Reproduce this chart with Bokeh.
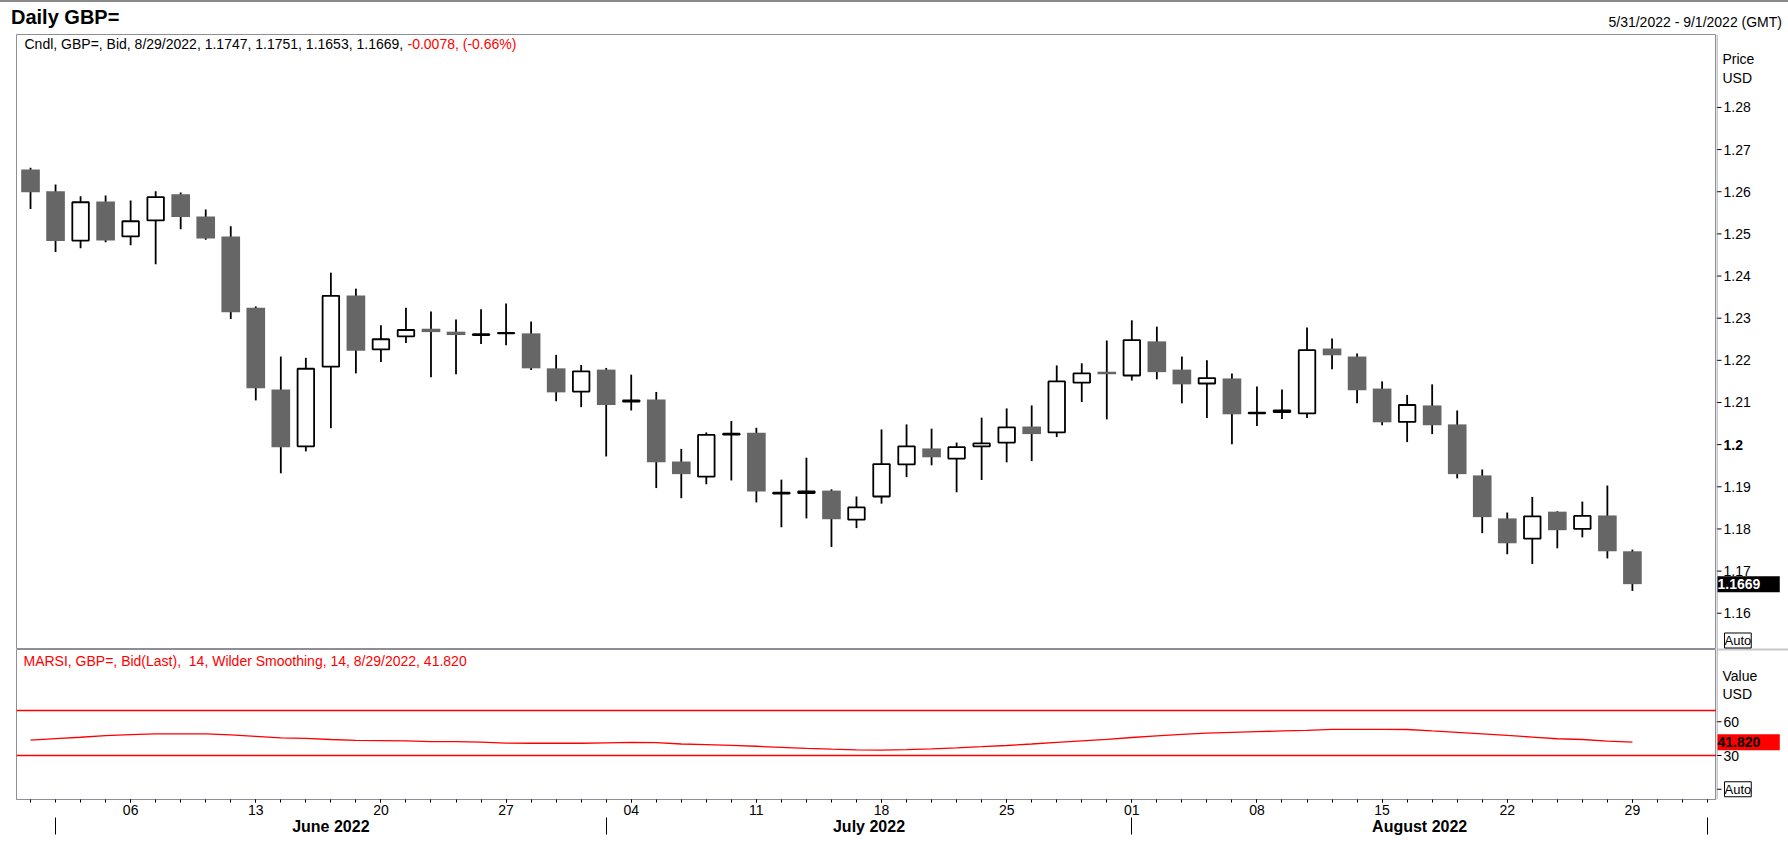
import pandas as pd
from bokeh.plotting import figure
from bokeh.models import Range1d, FixedTicker, LinearAxis, Label, Span, Div
from bokeh.layouts import column, row
from bokeh.core.properties import value
from bokeh.embed import file_html
from bokeh.resources import INLINE

FONT = "Liberation Sans"

# ---------------- data ----------------
opens = [1.2653, 1.2601, 1.2484, 1.2577, 1.2494, 1.2532, 1.2594, 1.2541, 1.2494, 1.2325,
         1.2131, 1.1996, 1.2185, 1.2354, 1.2226, 1.2257, 1.2275, 1.2268, 1.2260, 1.2264,
         1.2264, 1.2181, 1.2126, 1.2178, 1.2102, 1.2107, 1.1960, 1.1924, 1.2024, 1.2028,
         1.1884, 1.1885, 1.1891, 1.1822, 1.1877, 1.1953, 1.1991, 1.1967, 1.1996, 1.2005,
         1.2043, 1.2029, 1.2147, 1.2173, 1.2164, 1.2245, 1.2178, 1.2145, 1.2157, 1.2074,
         1.2077, 1.2074, 1.2228, 1.2209, 1.2133, 1.2054, 1.2093, 1.2048, 1.1927, 1.1825,
         1.1777, 1.1841, 1.1800, 1.1832, 1.1747]
highs = [1.2657, 1.2617, 1.2589, 1.2591, 1.2579, 1.2601, 1.2598, 1.2558, 1.2518, 1.2328,
         1.2209, 1.2206, 1.2408, 1.2370, 1.2283, 1.2325, 1.2316, 1.2297, 1.2321, 1.2335,
         1.2292, 1.2213, 1.2189, 1.2182, 1.2166, 1.2125, 1.1990, 1.2029, 1.2056, 1.2040,
         1.1917, 1.1969, 1.1894, 1.1877, 1.2036, 1.2048, 1.2038, 1.2005, 1.2064, 1.2086,
         1.2093, 1.2188, 1.2193, 1.2247, 1.2295, 1.2280, 1.2209, 1.2200, 1.2169, 1.2138,
         1.2131, 1.2278, 1.2252, 1.2216, 1.2150, 1.2118, 1.2143, 1.2081, 1.1941, 1.1839,
         1.1876, 1.1842, 1.1865, 1.1903, 1.1751]
lows = [1.2559, 1.2457, 1.2466, 1.2480, 1.2473, 1.2428, 1.2511, 1.2486, 1.2298, 1.2105,
        1.1932, 1.1984, 1.2039, 1.2169, 1.2196, 1.2241, 1.2160, 1.2167, 1.2239, 1.2236,
        1.2177, 1.2103, 1.2089, 1.1972, 1.2081, 1.1897, 1.1873, 1.1906, 1.1915, 1.1863,
        1.1804, 1.1825, 1.1757, 1.1802, 1.1860, 1.1923, 1.1951, 1.1887, 1.1916, 1.1958,
        1.1961, 1.2018, 1.2101, 1.2060, 1.2152, 1.2155, 1.2098, 1.2063, 1.2001, 1.2044,
        1.2061, 1.2063, 1.2179, 1.2098, 1.2046, 1.2006, 1.2025, 1.1920, 1.1790, 1.1740,
        1.1717, 1.1754, 1.1780, 1.1730, 1.1653]
closes = [1.2599, 1.2483, 1.2575, 1.2484, 1.2530, 1.2587, 1.2540, 1.2489, 1.2314, 1.2134,
          1.1994, 1.2180, 1.2353, 1.2223, 1.2250, 1.2272, 1.2267, 1.2260, 1.2262, 1.2265,
          1.2181, 1.2124, 1.2174, 1.2094, 1.2105, 1.1958, 1.1930, 1.2023, 1.2026, 1.1889,
          1.1886, 1.1889, 1.1823, 1.1851, 1.1954, 1.1996, 1.1970, 1.1994, 1.2003, 1.2041,
          1.2025, 1.2150, 1.2169, 1.2167, 1.2248, 1.2172, 1.2143, 1.2158, 1.2072, 1.2076,
          1.2081, 1.2224, 1.2212, 1.2129, 1.2053, 1.2094, 1.2046, 1.1930, 1.1828, 1.1766,
          1.1830, 1.1797, 1.1831, 1.1747, 1.1669]
rsi = [43.6, 45.0, 46.2, 47.6, 48.6, 49.3, 49.3, 49.2, 48.4, 47.0,
       45.6, 45.2, 44.2, 43.4, 43.3, 43.0, 42.4, 42.3, 41.8, 41.0,
       40.9, 40.9, 40.9, 41.3, 41.6, 41.4, 40.2, 39.6, 39.0, 38.2,
       37.2, 36.3, 35.6, 35.0, 34.8, 35.2, 35.9, 36.8, 37.8, 38.9,
       40.2, 41.6, 43.0, 44.4, 46.0, 47.4, 48.8, 49.8, 50.6, 51.2,
       51.8, 52.4, 53.2, 53.2, 53.2, 53.1, 51.8, 50.6, 49.3, 47.8,
       46.4, 44.9, 44.2, 42.8, 41.82]

first_day = "2022-05-31"
last_axis_day = "2022-09-01"
price_ticks = [1.16, 1.17, 1.18, 1.19, 1.21, 1.22, 1.23, 1.24, 1.25, 1.26, 1.27, 1.28]
price_tick_labels = ["1.16", "1.17", "1.18", "1.19", "1.21", "1.22", "1.23", "1.24",
                     "1.25", "1.26", "1.27", "1.28"]
bold_tick = [1.20]
bold_tick_label = ["1.2"]
rsi_ticks = [30, 60]
rsi_tick_labels = ["30", "60"]
rsi_auto_tick = 0
rsi_levels = [70, 30]
rsi_period = 14

dates = pd.bdate_range(first_day, periods=len(opens))
axis_days = pd.bdate_range(first_day, last_axis_day)
idx = list(range(len(opens)))
all_idx = list(range(len(axis_days)))

# ---------------- geometry (page pixels) ----------------
W, H = 1788, 862
HEAD = 33
FRAME_L, FRAME_R = 16, 1716
P1_TOP, P1_BOT = 34, 649
P2_TOP, P2_BOT = 649, 799
RIGHT_W = W - FRAME_R
X0, X1 = -0.56, 67.36
Y1_BOT, Y1_TOP = 1.1514, 1.2973
Y2_BOT, Y2_TOP = -9.1, 124.2


def y1d(py):
    return Y1_TOP - (py - P1_TOP) * (Y1_TOP - Y1_BOT) / (P1_BOT - P1_TOP)


def y2d(py):
    return Y2_TOP - (py - P2_TOP) * (Y2_TOP - Y2_BOT) / (P2_BOT - P2_TOP)


def xd(px):
    return X0 + (px - FRAME_L) * (X1 - X0) / (FRAME_R - FRAME_L)


GRAY = "#8e8e98"
BEAR = "#666666"
RED = "#ff0000"


def mdy(d):
    return f"{d.month}/{d.day}/{d.year}"


xr = Range1d(X0, X1)
yr1 = Range1d(Y1_BOT, Y1_TOP)
yr2 = Range1d(Y2_BOT, Y2_TOP)

common = dict(output_backend="svg", toolbar_location=None, tools="")

p1 = figure(width=FRAME_R, height=P1_BOT - HEAD, x_range=xr, y_range=yr1,
            x_axis_location=None, y_axis_location=None,
            min_border_left=FRAME_L, min_border_right=0,
            min_border_top=P1_TOP - HEAD, min_border_bottom=0, **common)
p2 = figure(width=FRAME_R, height=H - P2_TOP, x_range=xr, y_range=yr2,
            y_axis_location=None,
            min_border_left=FRAME_L, min_border_right=0,
            min_border_top=0, min_border_bottom=H - P2_BOT, **common)
q1 = figure(width=RIGHT_W, height=P1_BOT - HEAD, x_range=Range1d(0, RIGHT_W), y_range=yr1,
            x_axis_location=None, y_axis_location=None,
            min_border_left=0, min_border_right=0,
            min_border_top=P1_TOP - HEAD, min_border_bottom=0, **common)
q2 = figure(width=RIGHT_W, height=H - P2_TOP, x_range=Range1d(0, RIGHT_W), y_range=yr2,
            x_axis_location=None, y_axis_location=None,
            min_border_left=0, min_border_right=0,
            min_border_top=0, min_border_bottom=H - P2_BOT, **common)

for p in (p1, p2, q1, q2):
    p.xgrid.visible = False
    p.ygrid.visible = False
    p.background_fill_color = "white"
    p.border_fill_color = "white"
for p in (p1, p2):
    p.outline_line_color = GRAY
    p.outline_line_width = 1
for q in (q1, q2):
    q.outline_line_color = None

# ---------------- candles ----------------
bull = [i for i in idx if closes[i] >= opens[i]]
bear = [i for i in idx if closes[i] < opens[i]]
p1.segment(x0=idx, y0=lows, x1=idx, y1=highs, line_color="black", line_width=1.8)
p1.vbar(x=bear, width=0.745, top=[opens[i] for i in bear],
        bottom=[closes[i] for i in bear], fill_color=BEAR, line_color=None)
p1.vbar(x=bull, width=0.66, top=[closes[i] for i in bull],
        bottom=[opens[i] for i in bull], fill_color="white", line_color="black",
        line_width=1.8)

# ---------------- RSI ----------------
for lv in rsi_levels:
    p2.add_layout(Span(location=lv, dimension="width", line_color=RED, line_width=1.3))
p2.line(idx, rsi, line_color=RED, line_width=1.3)

# ---------------- x axis ----------------
mondays = [i for i, d in enumerate(axis_days) if d.weekday() == 0]
xa = p2.xaxis[0]
xa.ticker = FixedTicker(ticks=mondays, minor_ticks=all_idx)
xa.major_label_overrides = {i: axis_days[i].strftime("%d") for i in mondays}
xa.axis_line_color = GRAY
xa.major_tick_out = 3
xa.major_tick_in = 0
xa.minor_tick_out = 3
xa.minor_tick_in = 0
xa.major_tick_line_color = "black"
xa.minor_tick_line_color = "black"
xa.major_label_standoff = 2
xa.major_label_text_font = FONT
xa.major_label_text_font_size = "14px"
xa.major_label_text_color = "black"

seps = [i for i in all_idx if i > 0 and axis_days[i].month != axis_days[i - 1].month]
centers = [(a + b) / 2 for a, b in zip(seps[:-1], seps[1:])]
names = [axis_days[a].strftime("%B %Y") for a in seps[:-1]]
ma = LinearAxis(ticker=FixedTicker(ticks=centers, minor_ticks=seps),
                major_label_overrides=dict(zip(centers, names)))
ma.axis_line_color = None
ma.major_tick_line_color = None
ma.major_tick_out = 0
ma.major_tick_in = 0
ma.minor_tick_out = 17
ma.minor_tick_in = 0
ma.minor_tick_line_color = "black"
ma.major_label_standoff = -17
ma.major_label_text_font = FONT
ma.major_label_text_font_size = "16px"
ma.major_label_text_font_style = "bold"
ma.major_label_text_color = "black"
p2.add_layout(ma, "below")


# ---------------- helpers ----------------
def txt(p, xs, ys, texts, size="14px", color="black", bold=False, align="left"):
    p.text(x=xs, y=ys, text=texts, text_font=value(FONT), text_font_size=value(size),
           text_color=color, text_font_style="bold" if bold else "normal",
           text_align=align, text_baseline="middle")


def box(p, x, y, text, color, bg, border=None, size="14px", bold=True):
    p.add_layout(Label(x=x, y=y, text=text, text_font=FONT, text_font_size=size,
                       text_color=color, text_font_style="bold" if bold else "normal",
                       text_align="left", text_baseline="middle",
                       background_fill_color=bg, border_line_color=border,
                       border_line_width=1))


last = len(opens) - 1

# ---------------- price scale (right) ----------------
all_price_ticks = price_ticks + bold_tick
q1.add_layout(Span(location=0.5, dimension="height", line_color=GRAY, line_width=1))
q1.add_layout(Span(location=Y1_BOT, dimension="width", line_color=GRAY, line_width=1.5))
q1.segment(x0=[0] * len(all_price_ticks), x1=[5] * len(all_price_ticks),
           y0=all_price_ticks, y1=all_price_ticks, line_color="black", line_width=1)
txt(q1, [7] * len(price_ticks), price_ticks, price_tick_labels)
txt(q1, [7], bold_tick, bold_tick_label, bold=True)
txt(q1, [6, 6], [y1d(58), y1d(77)], ["Price", "USD"])
box(q1, 1, closes[last], f"{closes[last]:.4f}" + "\u00a0" * 5, "white", "black")
box(q1, 8, y1d(640), "Auto", "black", None, border="black", size="13px", bold=False)

# ---------------- RSI scale (right) ----------------
rsi_all_ticks = rsi_ticks + [rsi_auto_tick]
q2.add_layout(Span(location=0.5, dimension="height", line_color=GRAY, line_width=1))
q2.add_layout(Span(location=Y2_TOP, dimension="width", line_color=GRAY, line_width=1.5))
q2.segment(x0=[0] * len(rsi_all_ticks), x1=[5] * len(rsi_all_ticks), y0=rsi_all_ticks,
           y1=rsi_all_ticks, line_color="black", line_width=1)
txt(q2, [7] * len(rsi_ticks), rsi_ticks, rsi_tick_labels)
txt(q2, [6, 6], [y2d(675), y2d(693)], ["Value", "USD"])
box(q2, 1, rsi[last], f"{rsi[last]:.3f}" + "\u00a0" * 5, "black", RED)
box(q2, 8, rsi_auto_tick, "Auto", "black", None, border="black", size="13px", bold=False)

# ---------------- info lines ----------------
chg = closes[last] - closes[last - 1]
pct = chg / closes[last - 1] * 100
info_black = (f"Cndl, GBP=, Bid, {mdy(dates[last])}, {opens[last]:.4f}, {highs[last]:.4f}, "
              f"{lows[last]:.4f}, {closes[last]:.4f}, ")
info_red = f"{chg:.4f}, ({pct:.2f}%)"

for t, px, col in ((info_black, 24, "black"), (info_red, 24 + 383, RED)):
    p1.add_layout(Label(x=xd(px), y=y1d(43), text=t, text_font=FONT, text_font_size="14px",
                        text_color=col, text_baseline="middle"))
p2.add_layout(Label(x=xd(23), y=y2d(660),
                    text=f"MARSI, GBP=, Bid(Last),\u00a0 {rsi_period}, Wilder Smoothing, {rsi_period}, "
                         f"{mdy(dates[last])}, {rsi[last]:.3f}",
                    text_font=FONT, text_font_size="14px", text_color=RED,
                    text_baseline="middle"))

# ---------------- header ----------------
head = Div(text=(
    f'<div style="position:relative;width:{W}px;height:{HEAD}px;'
    f'font-family:\'{FONT}\',Arial,sans-serif;color:black;">'
    f'<div style="position:absolute;left:0;top:0;width:{W}px;height:2px;background:#8a8a8a;"></div>'
    f'<span style="position:absolute;left:11px;top:7px;font-size:20px;font-weight:bold;'
    f'line-height:20px;white-space:nowrap;">Daily GBP=</span>'
    f'<span style="position:absolute;right:6px;top:15px;font-size:14px;line-height:14px;'
    f'white-space:nowrap;">{mdy(axis_days[0])} - {mdy(axis_days[-1])} (GMT)</span></div>'),
    width=W, height=HEAD, margin=0)

layout = column(head, row(p1, q1, spacing=0), row(p2, q2, spacing=0), spacing=0)
open("out.html", "w").write(file_html(layout, INLINE))
